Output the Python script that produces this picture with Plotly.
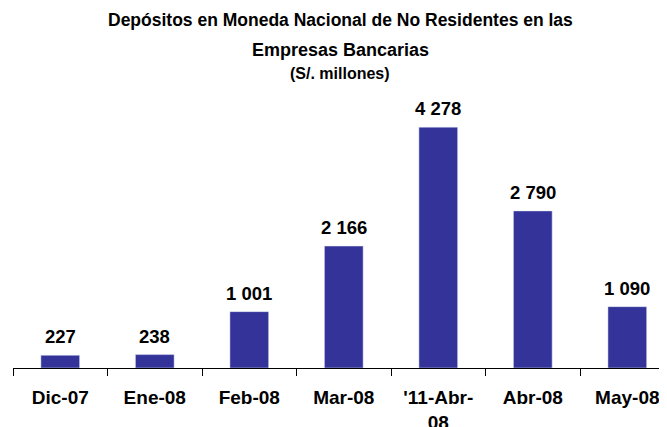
import plotly.graph_objects as go

categories = ["Dic-07", "Ene-08", "Feb-08", "Mar-08", "'11-Abr-<br>08", "Abr-08", "May-08"]
values = [227, 238, 1001, 2166, 4278, 2790, 1090]
title_lines = ["Depósitos en Moneda Nacional de No Residentes en las", "Empresas Bancarias"]
subtitle = "(S/. millones)"

FONT = "Liberation Sans, Arial"

def fmt(v):
    return f"{v:,}".replace(",", " ")

fig = go.Figure(go.Bar(x=categories, y=values, marker_color="#333399", width=0.41))

for c, v in zip(categories, values):
    fig.add_annotation(x=c, y=v, text=fmt(v), showarrow=False, yanchor="bottom", yshift=6,
                       font=dict(family=FONT, size=18.5, color="black", weight="bold"))

PLOT_H = 288
TOP = 80  # page y of plot top
titles = [(title_lines[0], 20, 17.5), (title_lines[1], 50, 18), (subtitle, 73, 16)]
for t, ypx, sz in titles:
    fig.add_annotation(xref="paper", yref="paper", x=0.5, y=1 + (TOP - ypx) / PLOT_H, yanchor="middle",
                       text=t, showarrow=False,
                       font=dict(family=FONT, size=sz, color="black", weight="bold"))

fig.update_layout(
    width=659, height=419,
    margin=dict(l=5, r=0, t=72, b=59, autoexpand=False),
    plot_bgcolor="white", paper_bgcolor="white",
    showlegend=False,
    xaxis=dict(range=[-0.5, 6.42], tickson="boundaries", ticks="outside", ticklen=7, tickcolor="black",
               showline=True, linecolor="black", linewidth=1, automargin=False,
               tickfont=dict(family=FONT, size=19, color="black", weight="bold"),
               ticklabelstandoff=12),
    yaxis=dict(range=[0, 5115], visible=False, automargin=False),
)

fig.write_html("out.html")
